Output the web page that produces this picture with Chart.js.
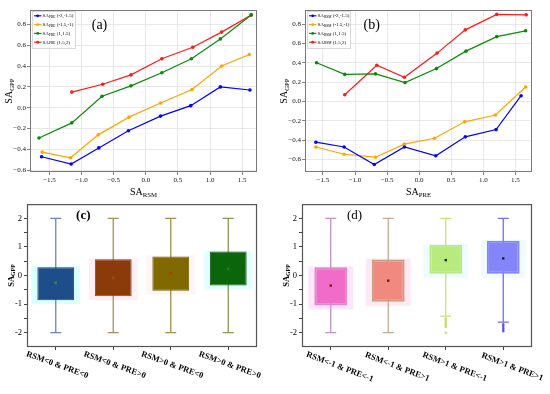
<!DOCTYPE html>
<html>
<head>
<meta charset="utf-8">
<script src="https://cdn.jsdelivr.net/npm/chart.js@4.4.1/dist/chart.umd.min.js"></script>
<style>
  html, body { margin: 0; padding: 0; background: #fff; }
  #wrap { position: relative; width: 550px; height: 394px; overflow: hidden; }
  canvas { position: absolute; }
</style>
</head>
<body>
<div id="wrap">
  <canvas id="ca" width="275" height="199" style="left:0;top:0"></canvas>
  <canvas id="cb" width="275" height="199" style="left:275px;top:0"></canvas>
  <canvas id="cc" width="275" height="197" style="left:0;top:197px"></canvas>
  <canvas id="cd" width="275" height="197" style="left:275px;top:197px"></canvas>
</div>
<script>
// ---- data ----
const binNames = ["(-2,-1.5)", "(-1.5,-1)", "(1,1.5)", "(1.5,2)"];
const xTicksStep = 0.5;

// (a) SA_GPP vs SA_RSM, grouped by SA_PRE bins
const aX1 = [-1.62, -1.16, -0.73, -0.27, 0.23, 0.70, 1.16, 1.62];
const aY1 = [-0.47, -0.54, -0.385, -0.22, -0.08, 0.02, 0.20, 0.17];
const aX2 = [-1.61, -1.17, -0.74, -0.26, 0.23, 0.72, 1.18, 1.61];
const aY2 = [-0.425, -0.48, -0.26, -0.09, 0.045, 0.175, 0.40, 0.51];
const aX3 = [-1.66, -1.15, -0.68, -0.23, 0.25, 0.71, 1.16, 1.64];
const aY3 = [-0.29, -0.145, 0.11, 0.21, 0.335, 0.47, 0.66, 0.89];
const aX4 = [-1.15, -0.67, -0.23, 0.25, 0.73, 1.18, 1.64];
const aY4 = [0.15, 0.225, 0.315, 0.47, 0.58, 0.725, 0.89];

// (b) SA_GPP vs SA_PRE, grouped by SA_RSM bins
const bX1 = [-1.61, -1.17, -0.70, -0.23, 0.26, 0.72, 1.20, 1.59];
const bY1 = [-0.42, -0.47, -0.65, -0.47, -0.56, -0.365, -0.29, 0.06];
const bX2 = [-1.61, -1.17, -0.68, -0.23, 0.24, 0.71, 1.19, 1.66];
const bY2 = [-0.47, -0.545, -0.575, -0.44, -0.38, -0.21, -0.14, 0.15];
const bX3 = [-1.60, -1.16, -0.68, -0.22, 0.27, 0.73, 1.21, 1.66];
const bY3 = [0.40, 0.28, 0.285, 0.195, 0.34, 0.52, 0.67, 0.73];
const bX4 = [-1.16, -0.66, -0.23, 0.28, 0.72, 1.21, 1.67];
const bY4 = [0.07, 0.375, 0.25, 0.50, 0.74, 0.90, 0.895];

// (c) box plots
const cLabels = ["RSM<0 & PRE<0", "RSM<0 & PRE>0", "RSM>0 & PRE<0", "RSM>0 & PRE>0"];
const cMin = [-2, -2, -2, -2];
const cQ1 = [-0.86, -0.72, -0.53, -0.35];
const cQ3 = [0.29, 0.57, 0.67, 0.84];
const cMax = [2, 2, 2, 2];
const cMean = [-0.25, -0.08, 0.08, 0.23];

// (d) box plots
const dLabels = ["RSM<-1 & PRE<-1", "RSM<-1 & PRE>1", "RSM>1 & PRE<-1", "RSM>1 & PRE>1"];
const dMin = [-2, -2, -1.42, -1.63];
const dQ1 = [-1.05, -0.92, 0.06, 0.06];
const dQ3 = [0.29, 0.56, 1.08, 1.22];
const dMax = [2, 2, 2, 2];
const dMean = [-0.35, -0.18, 0.54, 0.60];
const dOut3 = [-1.5, -1.55, -1.6, -1.65, -1.7, -1.75, -1.8, -2.0];
const dOut4 = [-1.7, -1.75, -1.8, -1.85, -1.9, -1.95];

// ---- styling ----
const serif = '"Liberation Serif", "Times New Roman", serif';
const lineColors = ["#0000ff", "#ffa500", "#0a8a0a", "#ff1a1a"];

function subText(ctx, x, y, main, sub, size, weight, angle) {
  ctx.save();
  ctx.translate(x, y);
  if (angle) ctx.rotate(angle);
  const f1 = weight + " " + size + "px " + serif;
  const f2 = weight + " " + (size * 0.68).toFixed(1) + "px " + serif;
  ctx.font = f1;
  const w1 = ctx.measureText(main).width;
  ctx.font = f2;
  const w2 = ctx.measureText(sub).width;
  const x0 = -(w1 + w2) / 2;
  ctx.fillStyle = "#000";
  ctx.textAlign = "left";
  ctx.textBaseline = "alphabetic";
  ctx.font = f1;
  ctx.fillText(main, x0, 0);
  ctx.font = f2;
  ctx.fillText(sub, x0 + w1, size * 0.22);
  ctx.restore();
}

function frame(chart, color, width) {
  const ca = chart.chartArea, ctx = chart.ctx;
  ctx.save();
  ctx.strokeStyle = color;
  ctx.lineWidth = width;
  ctx.strokeRect(ca.left + 0.5, ca.top + 0.5, ca.right - ca.left - 1, ca.bottom - ca.top - 1);
  ctx.restore();
}

function fmtTick(v) {
  const r = Math.round(v * 10) / 10;
  return (r === 0 ? 0 : r).toFixed(1).replace("-", "\u2212");
}

function lineDeco(cfg) {
  return {
    id: "lineDeco",
    afterDraw(chart) {
      const ctx = chart.ctx, ca = chart.chartArea;
      frame(chart, "#7a7a7a", 1);
      // legend
      const bx = ca.left + 2, by = ca.top + 1, bw = 43, bh = 37;
      ctx.save();
      ctx.fillStyle = "rgba(255,255,255,0.92)";
      ctx.fillRect(bx, by, bw, bh);
      ctx.strokeStyle = "#cfcfcf";
      ctx.lineWidth = 0.8;
      ctx.strokeRect(bx + 0.5, by + 0.5, bw, bh);
      chart.data.datasets.forEach((ds, k) => {
        const ry = by + 4.8 + k * 8.8;
        ctx.strokeStyle = ds.borderColor;
        ctx.lineWidth = 1.1;
        ctx.beginPath();
        ctx.moveTo(bx + 2, ry);
        ctx.lineTo(bx + 9.5, ry);
        ctx.stroke();
        ctx.fillStyle = ds.borderColor;
        ctx.beginPath();
        ctx.arc(bx + 5.7, ry, 1.4, 0, Math.PI * 2);
        ctx.fill();
        ctx.fillStyle = "#000";
        ctx.textBaseline = "middle";
        ctx.textAlign = "left";
        ctx.font = "5px " + serif;
        ctx.fillText("SA", bx + 10.5, ry);
        const w = ctx.measureText("SA").width;
        ctx.font = "3.6px " + serif;
        ctx.fillText(cfg.legendSub, bx + 10.5 + w, ry + 1.2);
        const w2 = ctx.measureText(cfg.legendSub).width;
        ctx.font = "5px " + serif;
        ctx.fillText(" " + ds.label, bx + 10.5 + w + w2, ry);
      });
      ctx.restore();
      // titles and tag
      subText(ctx, (ca.left + ca.right) / 2, 195, "SA", cfg.xSub, 10, "normal", 0);
      subText(ctx, 12, (ca.top + ca.bottom) / 2, "SA", "GPP", 10, "normal", -Math.PI / 2);
      ctx.save();
      ctx.fillStyle = "#000";
      ctx.font = "14px " + serif;
      ctx.textAlign = "center";
      ctx.textBaseline = "middle";
      ctx.fillText(cfg.tag, cfg.tagX, 25);
      ctx.restore();
    }
  };
}

function lineChart(id, xs, ys, xMin, xMax, yMin, yMax, deco) {
  return new Chart(document.getElementById(id), {
    type: "scatter",
    data: {
      datasets: ys.map((yv, k) => ({
        label: binNames[k],
        data: yv.map((v, i) => ({ x: xs[k][i], y: v })),
        showLine: true,
        borderColor: lineColors[k],
        backgroundColor: lineColors[k],
        borderWidth: 1.2,
        pointRadius: 1.8,
        pointBorderWidth: 0
      }))
    },
    options: {
      responsive: false,
      animation: false,
      events: [],
      layout: { padding: { left: 0, right: 18, top: 10, bottom: 0 } },
      plugins: { legend: { display: false }, tooltip: { enabled: false } },
      scales: {
        x: {
          type: "linear", min: xMin, max: xMax,
          afterFit: s => { s.height = 27; },
          border: { display: false },
          grid: { color: "#e2e2e2", lineWidth: 0.8, tickColor: "#666", tickLength: 3 },
          ticks: { stepSize: xTicksStep, includeBounds: false, autoSkip: false, maxRotation: 0,
                   padding: 1, color: "#111", font: { family: serif, size: 7 }, callback: fmtTick }
        },
        y: {
          min: yMin, max: yMax,
          afterFit: s => { s.width = 30; },
          border: { display: false },
          grid: { color: "#e2e2e2", lineWidth: 0.8, tickColor: "#666", tickLength: 3 },
          ticks: { stepSize: 0.2, includeBounds: false, autoSkip: false,
                   padding: 1, color: "#111", font: { family: serif, size: 7 }, callback: fmtTick }
        }
      }
    },
    plugins: [deco]
  });
}

lineChart("ca", [aX1, aX2, aX3, aX4], [aY1, aY2, aY3, aY4], -1.8, 1.73, -0.616, 0.937,
  lineDeco({ legendSub: "PRE", xSub: "RSM", tag: "(a)", tagX: 99.5 }));
lineChart("cb", [bX1, bX2, bX3, bX4], [bY1, bY2, bY3, bY4], -1.78, 1.76, -0.728, 0.945,
  lineDeco({ legendSub: "RSM", xSub: "PRE", tag: "(b)", tagX: 96.7 }));

function boxDeco(cfg) {
  return {
    id: "boxDeco",
    beforeDatasetsDraw(chart) {
      const ctx = chart.ctx, xs = chart.scales.x, ys = chart.scales.y;
      const meta = chart.getDatasetMeta(cfg.boxIndex);
      ctx.save();
      meta.data.forEach((bar, i) => {
        const top = Math.min(bar.y, bar.base), bot = Math.max(bar.y, bar.base);
        ctx.fillStyle = cfg.halo[i];
        ctx.fillRect(bar.x - bar.width / 2 - 6, top - 1, bar.width + 12, bot - top + 5);
      });
      cfg.lo.forEach((lo, i) => {
        const px = xs.getPixelForValue(i);
        const pHi = ys.getPixelForValue(cfg.hi[i]), pLo = ys.getPixelForValue(lo);
        ctx.strokeStyle = cfg.whisker[i];
        ctx.lineWidth = 1.3;
        ctx.beginPath();
        ctx.moveTo(px, pHi); ctx.lineTo(px, pLo);
        ctx.moveTo(px - 5.5, pHi); ctx.lineTo(px + 5.5, pHi);
        ctx.moveTo(px - 5.5, pLo); ctx.lineTo(px + 5.5, pLo);
        ctx.stroke();
      });
      ctx.restore();
    },
    afterDraw(chart) {
      const ctx = chart.ctx, ca = chart.chartArea, xs = chart.scales.x;
      frame(chart, "#555", 1.2);
      ctx.save();
      ctx.fillStyle = "#000";
      ctx.font = "bold 8.5px " + serif;
      ctx.textAlign = "center";
      ctx.textBaseline = "middle";
      chart.data.labels.forEach((lab, i) => {
        const px = xs.getPixelForValue(i);
        ctx.save();
        ctx.translate(px + cfg.lblDx, ca.bottom + cfg.lblDy);
        ctx.rotate(cfg.lblAngle * Math.PI / 180);
        ctx.fillText(lab, 0, 0);
        ctx.restore();
      });
      ctx.font = cfg.tagWeight + " 13px " + serif;
      ctx.fillText(cfg.tag, cfg.tagX, 18.5);
      ctx.restore();
      subText(ctx, 13.5, (ca.top + ca.bottom) / 2, "SA", "GPP", 8.5, "bold", -Math.PI / 2);
    }
  };
}

function boxChart(id, labels, lo, q1, q3, hi, mean, extra, st) {
  const datasets = [
    { type: "line", data: mean, showLine: false, pointStyle: "rect", pointRadius: 1.7,
      pointBorderWidth: 0, pointBackgroundColor: st.meanColor, order: 0 },
    { type: "bar", data: q1.map((q, i) => [q, q3[i]]), backgroundColor: st.box,
      borderColor: st.boxEdge, borderWidth: st.edgeWidth, borderSkipped: false,
      barPercentage: st.barPct, categoryPercentage: 1, order: 2 }
  ].concat(extra);
  return new Chart(document.getElementById(id), {
    type: "bar",
    data: { labels: labels, datasets: datasets },
    options: {
      responsive: false,
      animation: false,
      events: [],
      layout: { padding: { left: 0, right: 18, top: 2, bottom: 0 } },
      plugins: { legend: { display: false }, tooltip: { enabled: false } },
      scales: {
        x: {
          offset: true,
          afterFit: s => { s.height = 47; },
          border: { display: false },
          grid: { offset: false, drawOnChartArea: false, tickLength: 3, tickColor: "#444", lineWidth: 1 },
          ticks: { display: false }
        },
        y: {
          min: -2.5, max: 2.5,
          afterFit: s => { s.width = 27; },
          border: { display: false },
          grid: { drawOnChartArea: false, tickLength: 3, lineWidth: 1,
                  tickColor: c => Math.abs(c.tick.value) > 2.4 ? "rgba(0,0,0,0)" : "#444" },
          ticks: { stepSize: 0.5, autoSkip: false, padding: 2, color: "#000",
                   font: { family: serif, size: 8.5 },
                   callback: v => Math.abs(v - Math.round(v)) < 1e-6 ? String(Math.round(v)) : "" }
        }
      }
    },
    plugins: [boxDeco({ boxIndex: 1, lo: lo, hi: hi, halo: st.halo, whisker: st.whisker,
                        lblDx: st.lblDx, lblDy: st.lblDy, lblAngle: st.lblAngle,
                        tag: st.tag, tagX: st.tagX, tagWeight: st.tagWeight })]
  });
}

boxChart("cc", cLabels, cMin, cQ1, cQ3, cMax, cMean, [], {
  box: ["#1d4e89", "#8b3a0a", "#7f6900", "#0b660b"],
  boxEdge: ["#1a4678", "#a33a18", "#7a6400", "#185818"],
  edgeWidth: 1,
  halo: ["#dcffff", "#fff0f6", "#fff4f6", "#e4ffff"],
  whisker: ["#6d86b8", "#a89060", "#a09050", "#8a9656"],
  meanColor: ["#2e9a3a", "#a04a20", "#b03010", "#2a7a2a"],
  barPct: 0.64, lblDx: 1.5, lblDy: 18, lblAngle: 20,
  tag: "(c)", tagX: 83.3, tagWeight: "bold"
});

boxChart("cd", dLabels, dMin, dQ1, dQ3, dMax, dMean, [
  { type: "line", data: dOut3.map(v => ({ x: dLabels[2], y: v })), showLine: false,
    pointRadius: 1.2, pointBorderWidth: 0, pointBackgroundColor: "#c2e06a", order: 1 },
  { type: "line", data: dOut4.map(v => ({ x: dLabels[3], y: v })), showLine: false,
    pointRadius: 1.2, pointBorderWidth: 0, pointBackgroundColor: "#5a5ae6", order: 1 }
], {
  box: ["#f06cc8", "#f08a80", "#b7eb7d", "#8585fa"],
  boxEdge: ["#d98ac9", "#c8a080", "#b7eb7d", "#8585fa"],
  edgeWidth: 2,
  halo: ["#fce6fb", "#fde9f3", "#eefbff", "#eefbff"],
  whisker: ["#c090c8", "#c8a898", "#c8e478", "#7070f0"],
  meanColor: ["#8b1010", "#8b1010", "#202020", "#202020"],
  barPct: 0.57, lblDx: 9, lblDy: 20, lblAngle: 21,
  tag: "(d)", tagX: 79.5, tagWeight: "normal"
});
</script>
</body>
</html>
